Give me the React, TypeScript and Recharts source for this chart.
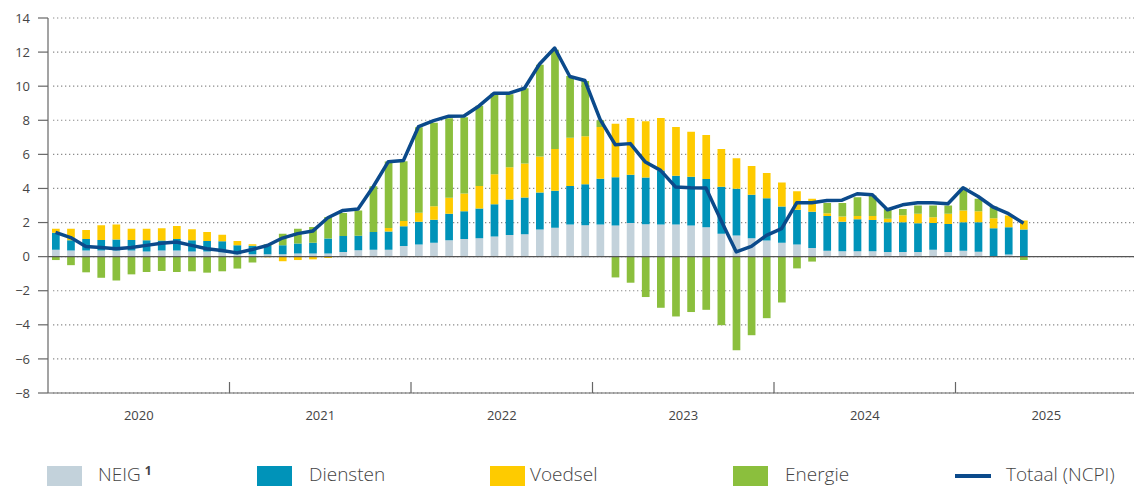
import React from 'react';
import { ComposedChart, Bar, Line, XAxis, YAxis, CartesianGrid, ReferenceLine } from 'recharts';

// ---- categories ----
const years = ['2020', '2021', '2022', '2023', '2024', '2025'];
const monthNames = ['jan', 'feb', 'mrt', 'apr', 'mei', 'jun', 'jul', 'aug', 'sep', 'okt', 'nov', 'dec'];
const months: string[] = years.flatMap((y) => monthNames.map((m) => `${m} ${y}`));

// ---- series (bijdragen, procentpunten) ----
const neig = [
  0.40, 0.36, 0.36, 0.36, 0.36, 0.36, 0.30, 0.36, 0.36, 0.30, 0.30, 0.26,
  0.14, 0.14, 0.14, 0.14, 0.18, 0.18, 0.18, 0.27, 0.37, 0.41, 0.41, 0.63,
  0.71, 0.82, 0.96, 1.04, 1.08, 1.18, 1.27, 1.31, 1.59, 1.69, 1.88, 1.84,
  1.88, 1.82, 1.98, 1.90, 1.88, 1.88, 1.82, 1.73, 1.35, 1.24, 1.08, 0.94,
  0.81, 0.71, 0.51, 0.35, 0.31, 0.31, 0.31, 0.27, 0.27, 0.27, 0.41, 0.27,
  0.35, 0.29, 0.03, 0.12, 0.00,
];
const diensten = [
  1.00, 0.60, 0.68, 0.62, 0.64, 0.62, 0.66, 0.58, 0.68, 0.66, 0.62, 0.64,
  0.53, 0.50, 0.48, 0.53, 0.59, 0.64, 0.88, 0.94, 0.86, 1.04, 1.07, 1.15,
  1.33, 1.35, 1.55, 1.63, 1.75, 1.90, 2.08, 2.16, 2.18, 2.18, 2.27, 2.41,
  2.69, 2.84, 2.82, 2.75, 3.18, 2.86, 2.86, 2.82, 2.75, 2.75, 2.55, 2.49,
  2.13, 2.04, 2.12, 2.04, 1.73, 1.88, 1.84, 1.75, 1.75, 1.69, 1.57, 1.65,
  1.67, 1.73, 1.63, 1.61, 1.59,
];
const voedsel = [
  0.24, 0.68, 0.52, 0.86, 0.88, 0.66, 0.68, 0.72, 0.76, 0.64, 0.52, 0.38,
  0.25, 0.08, -0.04, -0.27, -0.20, -0.16, -0.08, 0.00, 0.00, 0.00, 0.20, 0.31,
  0.53, 0.78, 0.94, 1.04, 1.31, 1.75, 1.90, 2.00, 2.10, 2.45, 2.82, 2.82,
  3.04, 3.14, 3.33, 3.29, 3.08, 2.86, 2.65, 2.59, 2.22, 1.78, 1.69, 1.47,
  1.41, 1.08, 0.76, 0.16, 0.31, 0.20, 0.24, 0.20, 0.41, 0.55, 0.33, 0.59,
  0.69, 0.65, 0.59, 0.69, 0.53,
];
const energie = [
  -0.20, -0.50, -0.92, -1.24, -1.40, -1.04, -0.90, -0.84, -0.90, -0.86, -0.94, -0.86,
  -0.70, -0.35, 0.10, 0.68, 0.86, 0.92, 1.27, 1.35, 1.48, 2.68, 3.90, 3.50,
  5.02, 4.90, 4.67, 4.47, 4.71, 4.76, 4.27, 4.41, 5.39, 5.82, 3.63, 3.24,
  0.39, -1.22, -1.53, -2.37, -3.00, -3.51, -3.25, -3.12, -4.02, -5.49, -4.61, -3.61,
  -2.69, -0.69, -0.29, 0.59, 0.80, 1.10, 1.20, 0.57, 0.37, 0.49, 0.69, 0.49,
  1.33, 0.73, 0.69, 0.00, -0.20,
];
const totaal = [
  1.42, 1.12, 0.60, 0.54, 0.46, 0.54, 0.66, 0.78, 0.86, 0.66, 0.46, 0.36,
  0.22, 0.42, 0.65, 1.09, 1.35, 1.50, 2.28, 2.71, 2.79, 4.10, 5.57, 5.64,
  7.63, 7.98, 8.24, 8.25, 8.84, 9.59, 9.59, 9.88, 11.30, 12.24, 10.57, 10.33,
  8.05, 6.57, 6.63, 5.55, 5.06, 4.08, 4.04, 4.02, 2.12, 0.28, 0.60, 1.25,
  1.64, 3.16, 3.16, 3.29, 3.31, 3.69, 3.63, 2.75, 3.04, 3.16, 3.16, 3.10,
  4.04, 3.53, 2.90, 2.52, 1.96,
];
const yTicks = [-8, -6, -4, -2, 0, 2, 4, 6, 8, 10, 12, 14];

const data = months.map((m, i) => ({
  m,
  neig: neig[i] ?? null,
  diensten: diensten[i] ?? null,
  voedsel: voedsel[i] ?? null,
  energie: energie[i] ?? null,
  totaal: totaal[i] ?? null,
}));

// ---- layout ----
const CHART_W = 1140;
const CHART_H = 430;
const Y_AXIS_W = 48;
const MARGIN = { top: 18, right: 3, bottom: 7, left: 0 };
const BAND = (CHART_W - MARGIN.right - MARGIN.left - Y_AXIS_W) / months.length;

const C = {
  neig: '#c3d2db',
  diensten: '#0093b9',
  voedsel: '#fecb00',
  energie: '#8bbf3d',
  totaal: '#0b4a8b',
  axis: '#666666',
  text: '#444444',
};
const FONT = '"Open Sans", "Noto Sans", sans-serif';

const fmt = (v: number) => (v < 0 ? `\u2212${-v}` : `${v}`);

const YearTick = (props: any) => {
  const { x, y, index } = props;
  const left = x - BAND / 2;
  return (
    <g>
      {index % 12 === 0 && index > 0 ? (
        <line x1={left} x2={left} y1={y} y2={y - 11} stroke={C.axis} strokeWidth={1.2} />
      ) : null}
      {index % 12 === 6 ? (
        <text x={left} y={y + 27} textAnchor="middle" fontSize={13} fill={C.text} fontFamily={FONT}>
          {years[Math.floor(index / 12)]}
        </text>
      ) : null}
    </g>
  );
};

const gridLine = (p: any) => (
  <line
    key={`g-${p.index}-${p.y1}`}
    x1={p.x1 + 5}
    x2={p.x2}
    y1={p.y1}
    y2={p.y2}
    stroke="#8c8c8c"
    strokeWidth={1.2}
    strokeDasharray="1.3 2.7"
  />
);

const legendItems = [
  { label: 'NEIG', sup: '1', color: C.neig, sx: 47, tx: 98, type: 'box' },
  { label: 'Diensten', color: C.diensten, sx: 257, tx: 309, type: 'box' },
  { label: 'Voedsel', color: C.voedsel, sx: 490, tx: 530, type: 'box' },
  { label: 'Energie', color: C.energie, sx: 733, tx: 785, type: 'box' },
  { label: 'Totaal (NCPI)', color: C.totaal, sx: 955, tx: 1006, type: 'line' },
];

export default function App() {
  return (
    <div
      style={{
        position: 'absolute',
        left: 0,
        top: 0,
        width: 1134,
        height: 486,
        overflow: 'hidden',
        background: '#fff',
        fontFamily: FONT,
      }}
    >
      <ComposedChart width={CHART_W} height={CHART_H} data={data} margin={MARGIN} stackOffset="sign" barGap={0}>
        <CartesianGrid vertical={false} horizontal={gridLine as any} />
        <XAxis
          dataKey="m"
          type="category"
          interval={0}
          height={30}
          tickLine={false}
          tickSize={0}
          tickMargin={0}
          axisLine={{ stroke: C.axis, strokeWidth: 1.2 }}
          tick={<YearTick />}
        />
        <YAxis
          domain={[-8, 14]}
          ticks={yTicks}
          interval={0}
          width={Y_AXIS_W}
          allowDataOverflow
          axisLine={{ stroke: C.axis, strokeWidth: 1.2 }}
          tickLine={{ stroke: C.axis, strokeWidth: 1.2 }}
          tickSize={10}
          tickMargin={8}
          tick={{ fontSize: 13, fill: C.text, fontFamily: FONT }}
          tickFormatter={fmt}
        />
        <ReferenceLine y={0} stroke="#555555" strokeWidth={1.3} />
        <Bar dataKey="neig" stackId="s" fill={C.neig} barSize={7.7} isAnimationActive={false} />
        <Bar dataKey="diensten" stackId="s" fill={C.diensten} barSize={7.7} isAnimationActive={false} />
        <Bar dataKey="voedsel" stackId="s" fill={C.voedsel} barSize={7.7} isAnimationActive={false} />
        <Bar dataKey="energie" stackId="s" fill={C.energie} barSize={7.7} isAnimationActive={false} />
        <Line
          dataKey="totaal"
          type="linear"
          stroke={C.totaal}
          strokeWidth={3.5}
          strokeLinejoin="round"
          dot={false}
          activeDot={false}
          isAnimationActive={false}
        />
      </ComposedChart>
      {legendItems.map((it) => (
        <React.Fragment key={it.label}>
          {it.type === 'box' ? (
            <div
              style={{ position: 'absolute', left: it.sx, top: 466, width: 35, height: 20, background: it.color }}
            />
          ) : (
            <div
              style={{ position: 'absolute', left: it.sx, top: 474, width: 36, height: 3.5, background: it.color }}
            />
          )}
          <div
            style={{
              position: 'absolute',
              left: it.tx,
              top: 464,
              height: 21,
              fontSize: 19,
              lineHeight: '21px',
              color: C.text,
              whiteSpace: 'nowrap',
              fontWeight: 300,
            }}
          >
            {it.label}
            {it.sup ? (
              <span style={{ fontSize: 12, fontWeight: 700, verticalAlign: 'top', marginLeft: 4, lineHeight: '14px' }}>
                {it.sup}
              </span>
            ) : null}
          </div>
        </React.Fragment>
      ))}
    </div>
  );
}
